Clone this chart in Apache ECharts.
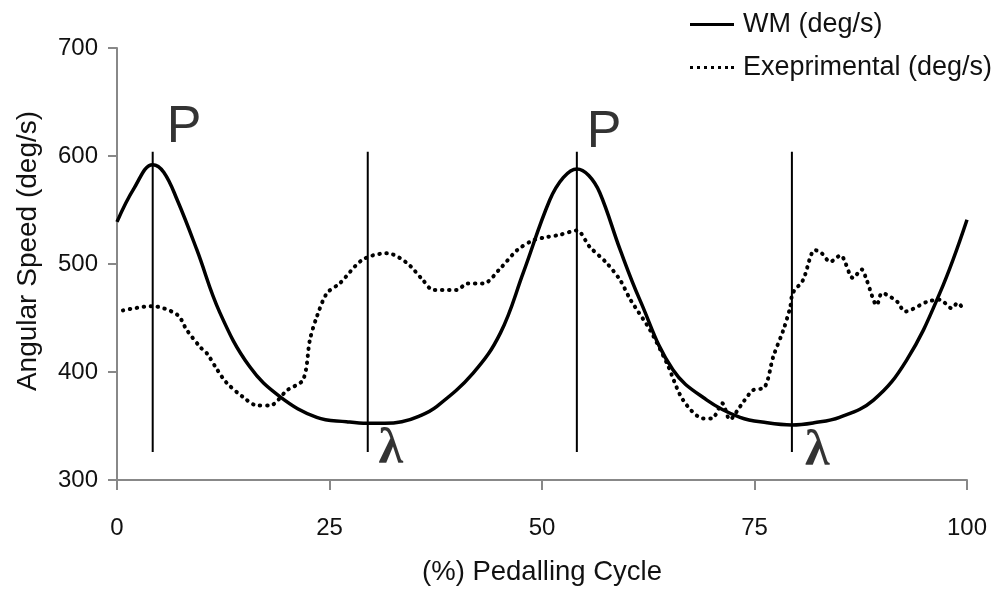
<!DOCTYPE html>
<html>
<head>
<meta charset="utf-8">
<script src="https://cdn.jsdelivr.net/npm/echarts@6/dist/echarts.min.js"></script>
<style>
  html, body { margin: 0; padding: 0; background: #fff; }
  #chart { width: 1006px; height: 592px; }
</style>
</head>
<body>
<div id="chart"></div>
<script>
// percent of pedalling cycle vs angular speed (deg/s)
const wmX = [0, 2, 4.2, 5.5, 7.1, 9.4, 12.1, 15.6, 19.2, 23.5, 27, 29.4, 31.5, 33.5, 35.5, 37.6, 41.9, 45.1, 47.8, 50.9, 52.5, 54.1, 55.5, 56.8, 59.2, 61.5, 65.4, 69.4, 73.3, 76.5, 79.4, 82, 85, 89, 92.9, 96.8, 100];
const wmY = [539, 570, 592, 585, 559, 513, 455, 405, 377, 358, 354, 352.5, 352.5, 354, 359, 368, 399, 436, 492, 559, 580, 588, 582, 566, 513, 467, 402, 374, 358, 353, 351, 353, 358, 374, 411, 473, 541];

const expX = [0.7, 4.1, 7.1, 8.2, 9.8, 10.6, 11.8, 12.9, 14.8, 16.5, 18, 20, 21.9, 22.7, 23.5, 24.7, 26.2, 28.9, 31.8, 34.1, 36, 37.2, 40, 41.2, 43.1, 45.1, 47.1, 49, 50.6, 52.1, 54.1, 55.6, 57.6, 59.2, 60.4, 62.7, 64.7, 66.6, 69, 70, 71.2, 72.1, 73.3, 74.8, 76.2, 77.2, 78.4, 79.2, 79.5, 80.7, 82.1, 82.9, 83.9, 85.1, 86.6, 87.6, 88.2, 89.4, 90, 91.8, 92.7, 95.3, 96.8, 98.2, 98.9, 99.5];
const expY = [457, 461, 453, 439, 423, 417, 402, 390, 377, 369, 369, 383, 393, 430, 451, 473, 482, 504, 510, 501, 485, 476, 476, 482, 482, 496, 513, 522, 525, 527, 531, 516, 501, 485, 467, 439, 408, 374, 357, 357, 371, 356, 368, 383, 386, 414, 439, 460, 473, 485, 513, 510, 502, 508, 487, 495, 485, 462, 473, 465, 456, 465, 467, 459, 464, 459];

// vertical marker lines (P = peak, λ = low)
const markerX = [4.2, 29.5, 54.1, 79.4];
const markerLow = 326;
const markerHigh = 604;
const labelText = ['P', 'λ', 'P', 'λ'];
const labelX = [7.9, 32.2, 57.3, 82.4];
const labelY = [626, 328, 622, 326];

const xTicks = [0, 25, 50, 75, 100];
const yTicks = [300, 400, 500, 600, 700];

const sans = 'Liberation Sans, Arial, sans-serif';
const serif = 'Liberation Serif, Times New Roman, serif';

// legend glyphs: solid bar and a row of dots
const solidIcon = 'path://M0,0H44V3H0Z';
const dottedIcon = 'path://M0,0h3v3h-3zM7,0h3v3h-3zM14,0h3v3h-3zM21,0h3v3h-3zM28,0h3v3h-3zM35,0h3v3h-3zM41,0h3v3h-3z';

const chart = echarts.init(document.getElementById('chart'));

const markerSeries = markerX.map((x) => ({
    type: 'line',
    data: [[x, markerLow], [x, markerHigh]],
    symbol: 'none',
    lineStyle: { color: '#000', width: 2 },
    silent: true,
    z: 3
}));

chart.setOption({
    animation: false,
    grid: { left: 117, right: 39, top: 48, bottom: 112 },
    legend: {
        orient: 'vertical',
        left: 690,
        top: 11,
        padding: 0,
        itemWidth: 44,
        itemHeight: 3,
        itemGap: 16,
        textStyle: { fontSize: 27, color: '#111', fontFamily: sans, padding: [0, 0, 0, 4] },
        data: [
            { name: 'WM (deg/s)', icon: solidIcon },
            { name: 'Exeprimental (deg/s)', icon: dottedIcon }
        ]
    },
    xAxis: {
        type: 'value',
        min: xTicks[0],
        max: xTicks[xTicks.length - 1],
        interval: 25,
        name: '(%) Pedalling Cycle',
        nameLocation: 'middle',
        nameGap: 78,
        nameTextStyle: { fontSize: 27.5, color: '#111', fontFamily: sans },
        axisLine: { lineStyle: { color: '#888', width: 2 } },
        axisTick: { inside: false, length: 10, lineStyle: { color: '#888', width: 2 } },
        axisLabel: { fontSize: 24, color: '#111', margin: 36, fontFamily: sans },
        splitLine: { show: false }
    },
    yAxis: {
        type: 'value',
        min: yTicks[0],
        max: yTicks[yTicks.length - 1],
        interval: 100,
        name: 'Angular Speed (deg/s)',
        nameLocation: 'middle',
        nameGap: 75,
        nameTextStyle: { fontSize: 28, color: '#111', fontFamily: sans, padding: [0, 0, 0, 26] },
        axisLine: { show: true, lineStyle: { color: '#888', width: 2 } },
        axisTick: { show: true, length: 9, lineStyle: { color: '#888', width: 2 } },
        axisLabel: { fontSize: 24, color: '#111', margin: 19, fontFamily: sans },
        splitLine: { show: false }
    },
    series: [
        {
            name: 'WM (deg/s)',
            type: 'line',
            data: wmX.map((x, i) => [x, wmY[i]]),
            smooth: 0.4,
            symbol: 'none',
            lineStyle: { color: '#000', width: 3.5 },
            itemStyle: { color: '#000' },
            z: 4
        },
        {
            name: 'Exeprimental (deg/s)',
            type: 'line',
            data: expX.map((x, i) => [x, expY[i]]),
            smooth: 0.3,
            symbol: 'none',
            lineStyle: { color: '#000', width: 4, type: [0.5, 6.5], cap: 'round' },
            itemStyle: { color: '#000' },
            z: 4
        },
        ...markerSeries,
        {
            type: 'scatter',
            data: labelX.map((x, i) => ({
                value: [x, labelY[i]],
                label: {
                    formatter: labelText[i],
                    color: '#000',
                    fontFamily: labelText[i] === 'P' ? sans : serif,
                    fontWeight: labelText[i] === 'P' ? 'normal' : 'bold',
                    fontSize: labelText[i] === 'P' ? 52 : 50
                }
            })),
            symbolSize: 0,
            silent: true,
            label: { show: true, position: 'inside', color: '#000' },
            z: 5
        }
    ]
});
</script>
</body>
</html>
